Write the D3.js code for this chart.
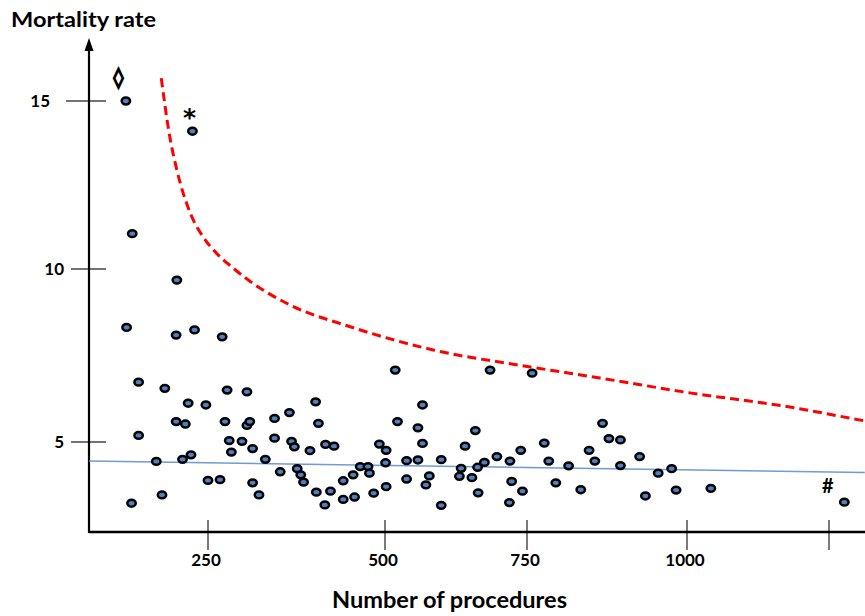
<!DOCTYPE html>
<html>
<head>
<meta charset="utf-8">
<script src="https://cdn.jsdelivr.net/npm/d3@7"></script>
<style>
  body { margin: 0; background: #fff; }
  text { font-family: Lato, "Open Sans", sans-serif; font-weight: bold; }
</style>
</head>
<body>
<div id="chart"></div>
<script>
//Data
var procedures = [134, 228, 143, 206, 135, 205, 231, 270, 152, 189, 277, 305, 222, 247, 402, 205, 218, 274, 305, 309,
    344, 365, 406, 152, 280, 298, 313, 283, 344, 368, 372, 394, 416, 428, 177, 214, 226, 331, 352, 376,
    381, 385, 250, 267, 313, 322, 403, 423, 441, 441, 415, 185, 142,
    518, 685, 758, 566, 522, 558, 659, 566, 641, 492, 502, 501, 538, 558, 599, 634, 663, 675, 697, 720,
    739, 777, 784, 815, 847, 856, 457, 455, 465, 476, 478, 484, 502, 538, 572, 578, 599, 631, 653, 664,
    723, 719, 742, 795, 834,
    868, 878, 896, 926, 896, 955, 976, 935, 983, 1042, 1277];
var mortality = [15.0, 14.1, 11.05, 9.68, 8.31, 8.09, 8.24, 8.04, 6.73, 6.55, 6.5, 6.45, 6.12, 6.07, 6.16, 5.59, 5.52, 5.59, 5.48, 5.59,
    5.68, 5.85, 5.54, 5.19, 5.04, 5.02, 4.81, 4.71, 5.11, 5.02, 4.86, 4.75, 4.93, 4.88, 4.44, 4.5, 4.63, 4.5, 4.14, 4.23,
    4.05, 3.84, 3.89, 3.91, 3.82, 3.47, 3.55, 3.58, 3.88, 3.34, 3.18, 3.47, 3.23,
    7.08, 7.08, 6.99, 6.07, 5.59, 5.41, 5.33, 4.96, 4.88, 4.94, 4.76, 4.4, 4.46, 4.48, 4.49, 4.24, 4.27, 4.41, 4.58, 4.45,
    4.76, 4.97, 4.45, 4.31, 4.76, 4.45, 3.41, 4.05, 4.29, 4.29, 4.1, 3.52, 3.71, 3.93, 3.76, 4.02, 3.17, 4.01, 3.97, 3.53,
    3.86, 3.25, 3.58, 3.82, 3.62,
    5.54, 5.1, 5.06, 4.58, 4.32, 4.1, 4.23, 3.44, 3.61, 3.66, 3.26];

//Upper control limit (red dashed)
var limitProcedures = [184, 196, 206, 225, 243, 262, 286, 307, 366, 451, 585, 755, 864, 1005, 1181, 1313, 1340];
var limitRate = [15.68, 13.94, 12.95, 11.66, 10.96, 10.47, 10.02, 9.68, 8.96, 8.33, 7.66, 7.17, 6.85, 6.42, 6.01, 5.61, 5.53];

//Average line (blue)
var trendProcedures = [82, 1313];
var trendRate = [4.45, 4.12];

//Axes
var xTickValues = [250, 500, 750, 1000, 1250];
var xTickLabels = ["250", "500", "750", "1000", ""];
var yTickValues = [5, 10, 15];

//Marked hospitals: index into the arrays above
var markIndex = [0, 1, 108];
var markText = ["\u25CA", "*", "#"];

var width = 865, height = 616;

var svg = d3.select("#chart")
    .append("svg")
    .attr("width", width)
    .attr("height", height);

// hand drawn axis, ticks are not evenly spaced
var x = d3.scaleLinear().domain(xTickValues).range([208, 385, 527, 687, 829]);
var y = d3.scaleLinear().domain(yTickValues).range([442, 269, 101]);

var x0 = 89, yBase = 532;

//y ticks
svg.selectAll(".yTick")
    .data(yTickValues)
    .enter()
    .append("line")
    .attr("class", "yTick")
    .attr("x1", function (d) { return d == 15 ? 66 : 71 })
    .attr("x2", 106)
    .attr("y1", function (d) { return y(d) })
    .attr("y2", function (d) { return y(d) })
    .attr("stroke", "#444")
    .attr("stroke-width", 1.3);

svg.selectAll(".yLabel")
    .data(yTickValues)
    .enter()
    .append("text")
    .attr("class", "yLabel")
    .attr("x", function (d) { return d == 15 ? 50 : 64 })
    .attr("y", function (d) { return y(d) })
    .attr("dy", "0.36em")
    .attr("text-anchor", "end")
    .style("font-size", "17px")
    .text(function (d) { return d });

//x ticks
svg.selectAll(".xTick")
    .data(xTickValues)
    .enter()
    .append("line")
    .attr("class", "xTick")
    .attr("x1", function (d) { return x(d) })
    .attr("x2", function (d) { return x(d) })
    .attr("y1", 520)
    .attr("y2", 550)
    .attr("stroke", "#222")
    .attr("stroke-width", 1.2);

svg.selectAll(".xLabel")
    .data(xTickValues)
    .enter()
    .append("text")
    .attr("class", "xLabel")
    .attr("x", function (d) { return x(d) - 2 })
    .attr("y", 566)
    .attr("text-anchor", "middle")
    .style("font-size", "17px")
    .text(function (d, i) { return xTickLabels[i] });

//axis lines
svg.append("line")
    .attr("x1", x0).attr("x2", width)
    .attr("y1", yBase).attr("y2", yBase)
    .attr("stroke", "black")
    .attr("stroke-width", 2.5);

svg.append("line")
    .attr("x1", x0).attr("x2", x0)
    .attr("y1", yBase + 1).attr("y2", 48)
    .attr("stroke", "black")
    .attr("stroke-width", 2.2);

svg.append("path")
    .attr("d", "M" + x0 + ",38 L" + (x0 - 4.5) + ",51 L" + (x0 + 4.5) + ",51 Z")
    .attr("fill", "black");

//average line
var trend = trendProcedures.map(function (d, i) { return [d, trendRate[i]] });
svg.append("path")
    .datum(trend)
    .attr("fill", "none")
    .attr("stroke", "#6f9bd6")
    .attr("stroke-width", 1.5)
    .attr("d", d3.line()
        .x(function (d) { return x(d[0]) })
        .y(function (d) { return y(d[1]) })
    );

//control limit
var limit = limitProcedures.map(function (d, i) { return [d, limitRate[i]] });
svg.append("path")
    .datum(limit)
    .attr("fill", "none")
    .attr("stroke", "#ff0000")
    .attr("stroke-width", 3)
    .attr("stroke-dasharray", "9,5")
    .attr("d", d3.line()
        .curve(d3.curveMonotoneX)
        .x(function (d) { return x(d[0]) })
        .y(function (d) { return y(d[1]) })
    );

//dots
var points = procedures.map(function (d, i) { return { n: d, rate: mortality[i] } });
svg.append("g")
    .selectAll("ellipse")
    .data(points)
    .enter()
    .append("ellipse")
    .attr("cx", function (d) { return x(d.n) })
    .attr("cy", function (d) { return y(d.rate) })
    .attr("rx", 4.2)
    .attr("ry", 3.4)
    .style("fill", "#4f81bd")
    .attr("stroke", "black")
    .attr("stroke-width", 2.5);

//marks next to outliers (offset of the text baseline from the dot)
var markOffset = [[-7.5, -17], [-3, -5], [-16.5, -9]];
var markFont = ["DejaVu Sans", "DejaVu Sans", "Lato"];
var markSize = ["20px", "25px", "20px"];
svg.selectAll(".mark")
    .data(markIndex)
    .enter()
    .append("text")
    .attr("class", "mark")
    .attr("x", function (d, i) { return x(procedures[d]) + markOffset[i][0] })
    .attr("y", function (d, i) { return y(mortality[d]) + markOffset[i][1] })
    .attr("text-anchor", "middle")
    .style("font-family", function (d, i) { return markFont[i] })
    .style("font-size", function (d, i) { return markSize[i] })
    .attr("stroke", function (d, i) { return i == 0 ? "black" : "none" })
    .attr("stroke-width", 1.6)
    .text(function (d, i) { return markText[i] });

//titles
svg.append("text")
    .attr("x", 11)
    .attr("y", 27)
    .attr("textLength", 145)
    .attr("lengthAdjust", "spacingAndGlyphs")
    .style("font-size", "21px")
    .text("Mortality rate");

svg.append("text")
    .attr("x", 332)
    .attr("y", 608)
    .attr("textLength", 235)
    .attr("lengthAdjust", "spacingAndGlyphs")
    .style("font-size", "22px")
    .text("Number of procedures");
</script>
</body>
</html>
